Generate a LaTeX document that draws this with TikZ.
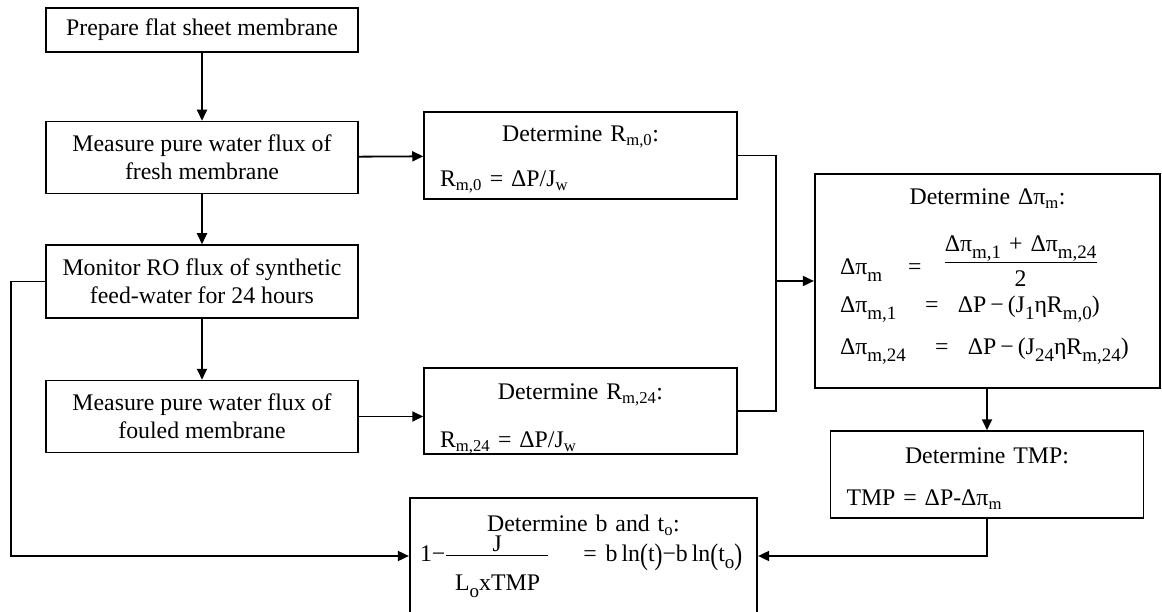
\documentclass[tikz,border=0pt]{standalone}
\usepackage{fontspec}
\setmainfont{Liberation Serif}
\usepackage{amsmath}
\usepackage{graphicx}
\usetikzlibrary{arrows.meta,positioning}

\newcommand{\tightlines}{\lineskiplimit=-100pt\relax}
\tikzset{
  flowbox/.style={draw, line width=1.5pt, minimum width=312pt, minimum height=72pt,
    align=center, inner sep=0pt, font=\fontsize{23.8}{28}\selectfont\tightlines},
  calcbox/.style={flowbox, inner xsep=16pt, text width=281pt, align=left},
  heavybox/.style={calcbox, line width=2.2pt},
  link/.style={line width=1.8pt},
  flowline/.style={link, -{Triangle[length=11pt,width=10pt]}},
}
\newcommand{\boxhead}[2][0pt]{\makebox[\linewidth]{\rule{0pt}{#1}#2}}
\newcommand{\lowsub}[1]{\raisebox{-7pt}{\fontsize{19}{19}\selectfont #1}}
\newcommand{\stackfrac}[3]{$\textstyle\frac{\hbox{#1}}{\hbox{\rule{0pt}{#3}#2}}$}
\newcommand{\tallparen}[1]{\raisebox{-3pt}{\scalebox{1}[1.25]{#1}}}

\begin{document}
\begin{tikzpicture}[x=1pt, y=-1pt, line cap=round, line join=miter]
	\clip (0,0) rectangle (1162,612);

	% left column
	\node[flowbox, minimum height=44pt] (prep) at (202,30) {Prepare flat sheet membrane};
	\node[flowbox, below=68pt of prep] (fresh) {Measure pure water flux of\\fresh membrane};
	\node[flowbox, below=50pt of fresh, minimum height=73pt] (monitor) {Monitor RO flux of synthetic\\feed-water for 24 hours};
	\node[flowbox, below=61pt of monitor] (fouled) {Measure pure water flux of\\fouled membrane};

	% resistances
	\node[calcbox, minimum width=313pt, minimum height=87pt] (rzero) at (580.5,155.5)
		{\boxhead[24pt]{Determine R\textsubscript{m,0}:}\\[17pt]R\textsubscript{m,0} = ΔP/J\textsubscript{w}};
	\node[calcbox, minimum width=313pt, minimum height=86pt] (rtwenty) at (580.5,411)
		{\boxhead[32pt]{Determine R\textsubscript{m,24}:}\\[20pt]R\textsubscript{m,24} = ΔP/J\textsubscript{w}};

	% osmotic pressure
	\node[heavybox, minimum width=345pt, minimum height=214pt, inner xsep=25pt, text width=295pt] (dpi) at (987.5,281)
		{\boxhead{Determine Δπ\textsubscript{m}:}\\[42pt]
		\makebox[68pt][l]{Δπ\lowsub{m}}=\hspace{22pt}\raisebox{6pt}{\stackfrac{\makebox[152pt]{Δπ\lowsub{m,1} + Δπ\lowsub{m,24}}}{2}{22pt}}\\[10pt]
		\makebox[85pt][l]{Δπ\lowsub{m,1}}=\hspace{19.5pt}ΔP\,−\,(J\lowsub{1}ηR\lowsub{m,0})\\[14pt]
		\makebox[95pt][l]{Δπ\lowsub{m,24}}=\hspace{19.5pt}ΔP\,−\,(J\lowsub{24}ηR\lowsub{m,24})\rule[-18.3pt]{0pt}{1pt}};

	\node[calcbox, minimum height=87pt] (tmp) at (987,474.5)
		{\boxhead[24pt]{Determine TMP:}\\[14pt]TMP = ΔP-Δπ\textsubscript{m}};

	% fouling parameters
	\node[heavybox, minimum width=347pt, minimum height=116pt, inner xsep=10pt, text width=327pt] (bt) at (583.5,556)
		{\boxhead{Determine b and t\textsubscript{o}:}\\[2pt]
		\makebox[\linewidth][l]{\makebox[25pt][l]{1−}\stackfrac{J}{\hspace{9pt}L\lowsub{o}xTMP\hspace{8pt}}{33.5pt}\hspace{34pt}=\hspace{9pt}b\,ln\tallparen{(}t\tallparen{)}−b\,ln\tallparen{(}t\lowsub{o}\tallparen{)}}};

	% connectors
	\coordinate (join) at (776,281);
	\draw[flowline] (prep) -- (fresh);
	\draw[flowline] (fresh) -- (monitor);
	\draw[flowline] (monitor) -- (fouled);
	\draw[flowline] (fresh) -- (rzero);
	\draw[flowline] (fouled.east) -- (fouled.east -| rtwenty.west);
	\draw[link] (rzero.east) -| (join);
	\draw[link] (rtwenty.east) -| (join);
	\draw[flowline] (join) -- (dpi.west |- join);
	\draw[flowline] (dpi.south -| tmp.north) -- (tmp.north);
	\draw[flowline] (tmp.south) |- (bt.east);
	\draw[flowline] (monitor.west) -- ++(-34,0) |- (bt.west);
\end{tikzpicture}
\end{document}
